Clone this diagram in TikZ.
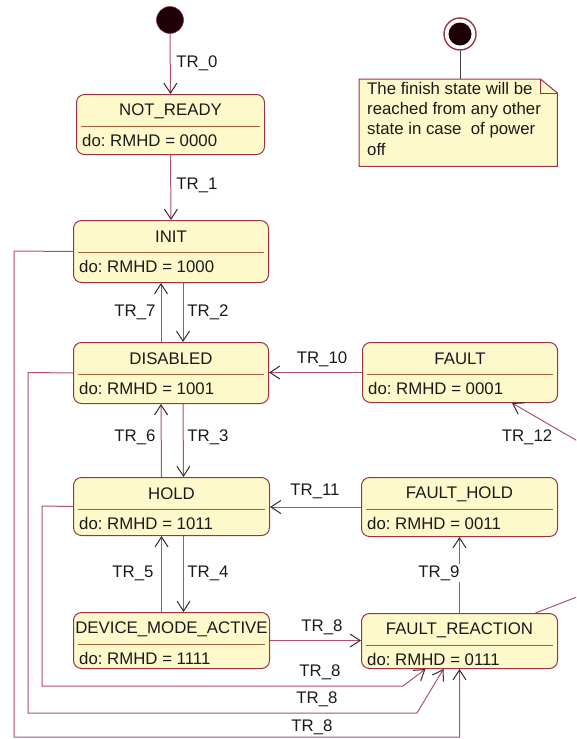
\documentclass[tikz,border=0pt]{standalone}
\usepackage{fontspec}
\setmainfont{Liberation Sans}
\usetikzlibrary{arrows.meta,calc}
\definecolor{bord}{HTML}{9C3344}
\definecolor{linec}{HTML}{B0506A}
\definecolor{sepc}{HTML}{A0603A}
\definecolor{fillc}{HTML}{FEF9CB}
\definecolor{arrc}{HTML}{3A2A30}
\definecolor{txtc}{HTML}{1A1A1A}
\definecolor{initc}{HTML}{1E0008}
\frenchspacing
\newcommand\mkstate[7]{%
  \node[state, minimum width=#4pt, minimum height=#5pt] (#1) at (#2,#3) {};
  \node[inner sep=0pt] (#1-t) at ([yshift=-17pt]#1.north) {#6};
  \draw[sepline] ([xshift=5pt,yshift=-32pt]#1.north west) -- ([xshift=-5pt,yshift=-32pt]#1.north east);
  \node[anchor=west, inner sep=0pt] (#1-d) at ([xshift=6pt,yshift=-46pt]#1.north west) {#7};
}
\begin{document}
\begin{tikzpicture}[x=1pt,y=-1pt,
  every node/.style={font=\fontsize{16.8}{20.3}\selectfont, text=txtc},
  state/.style={draw=bord, fill=fillc, rounded corners=8pt, line width=1pt, inner sep=0pt, anchor=north west},
  sepline/.style={draw=sepc, line width=1pt},
  tr/.style={draw=linec, line width=1pt, -{Straight Barb[length=10pt,width=13pt,color=arrc]}},
  wire/.style={draw=linec, line width=1pt},
  lab/.style={inner sep=1pt}]
\useasboundingbox (0,0) rectangle (576,739);

% states
\mkstate{nr}{76}{94}{188}{60}{NOT\_READY}{do: RMHD = 0000}
\mkstate{init}{73}{220}{195}{62}{INIT}{do: RMHD = 1000}
\mkstate{dis}{73}{342}{195}{61}{DISABLED}{do: RMHD = 1001}
\mkstate{hold}{73}{477}{196}{58}{HOLD}{do: RMHD = 1011}
\mkstate{dma}{73}{612}{196}{56}{DEVICE\_MODE\_ACTIVE}{do: RMHD = 1111}
\mkstate{fault}{362}{342}{195}{60}{FAULT}{do: RMHD = 0001}
\mkstate{fh}{361}{477}{196}{59}{FAULT\_HOLD}{do: RMHD = 0011}
\mkstate{fr}{361}{613}{196}{55}{FAULT\_REACTION}{do: RMHD = 0111}

% initial and final states
\node[circle, fill=initc, draw=bord, line width=0.6pt, minimum size=27pt, inner sep=0pt] (start) at (170,20) {};
\node[circle, draw=bord, line width=1.4pt, fill=white, minimum size=32pt, inner sep=0pt] (fin) at (460,34) {};
\node[circle, fill=initc, minimum size=23pt, inner sep=0pt] (finin) at (460,34) {};

% note
\node[minimum width=198pt, minimum height=87pt, anchor=north west, inner sep=0pt] (note) at (359,79) {};
\draw[bord, fill=fillc, line width=1pt] (note.north west) -- ([xshift=-17pt]note.north east) -- ([yshift=-14pt]note.north east) -- (note.south east) -- (note.south west) -- cycle;
\draw[bord, line width=1pt] ([xshift=-17pt]note.north east) -- ([xshift=-17pt,yshift=-14pt]note.north east) -- ([yshift=-14pt]note.north east);
\node[anchor=north west, align=left, inner sep=0pt] (notetext) at (367,82) {The finish state will be\\reached from any other\\state in case\ \ of power\\off};
\draw[draw=black!75, line width=0.8pt] (fin.south) -- (note.north -| fin.south);

% vertical main chain
\draw[tr] (start.south) -- (nr.north);
\draw[tr] (nr.south) -- (init.north);
\draw[tr] ([xshift=12pt]init.south) -- ([xshift=12pt]dis.north);
\draw[tr] ([xshift=-10pt]dis.north) -- ([xshift=-10pt]init.south);
\draw[tr] ([xshift=12pt]dis.south) -- ([xshift=12pt]hold.north);
\draw[tr] ([xshift=-10pt]hold.north) -- ([xshift=-10pt]dis.south);
\draw[tr] ([xshift=12pt]hold.south) -- ([xshift=12pt]dma.north);
\draw[tr] ([xshift=-10pt]dma.north) -- ([xshift=-10pt]hold.south);

% right column
\draw[tr] (fault.west) -- (fault.west -| dis.east);
\draw[tr] (fh.west) -- (fh.west -| hold.east);
\draw[tr] (fr.north) -- (fh.south);
\draw[tr] (dma.east) -- (dma.east -| fr.west);

% TR_8 loops
\draw[tr] (hold.west) -- (42,506) -- (42,686) -- (403,686) -- ([xshift=-34pt]fr.south);
\draw[tr] (dis.west) -- (28,372.5) -- (28,713) -- (417,713) -- ([xshift=-16pt]fr.south);
\draw[tr] (init.west) -- (14,251) -- (14,737) -- (fr.south |- 0,737) -- (fr.south);

% TR_12 (leaves the picture at the right)
\begin{scope}
\clip (0,0) rectangle (576,739);
\draw[tr] ([xshift=76pt]fr.north) -- (600,588) -- (600,454) -- ([xshift=52pt]fault.south);
\end{scope}

% labels
\node[lab] (l0) at (197,63) {TR\_0};
\node[lab] (l1) at (197,185) {TR\_1};
\node[lab] (l7) at (135,312) {TR\_7};
\node[lab] (l2) at (208,312) {TR\_2};
\node[lab] (l6) at (135,437) {TR\_6};
\node[lab] (l3) at (208,437) {TR\_3};
\node[lab] (l5) at (133,573) {TR\_5};
\node[lab] (l4) at (208,573) {TR\_4};
\node[lab] (l10) at (322,359) {TR\_10};
\node[lab] (l11) at (315,491) {TR\_11};
\node[lab] (l12) at (527,437) {TR\_12};
\node[lab, fill=white] (l9) at (439,573) {TR\_9};
\node[lab] (l8a) at (322,627) {TR\_8};
\node[lab] (l8b) at (320,672) {TR\_8};
\node[lab] (l8c) at (317,699) {TR\_8};
\node[lab] (l8d) at (312,727) {TR\_8};
\end{tikzpicture}
\end{document}
